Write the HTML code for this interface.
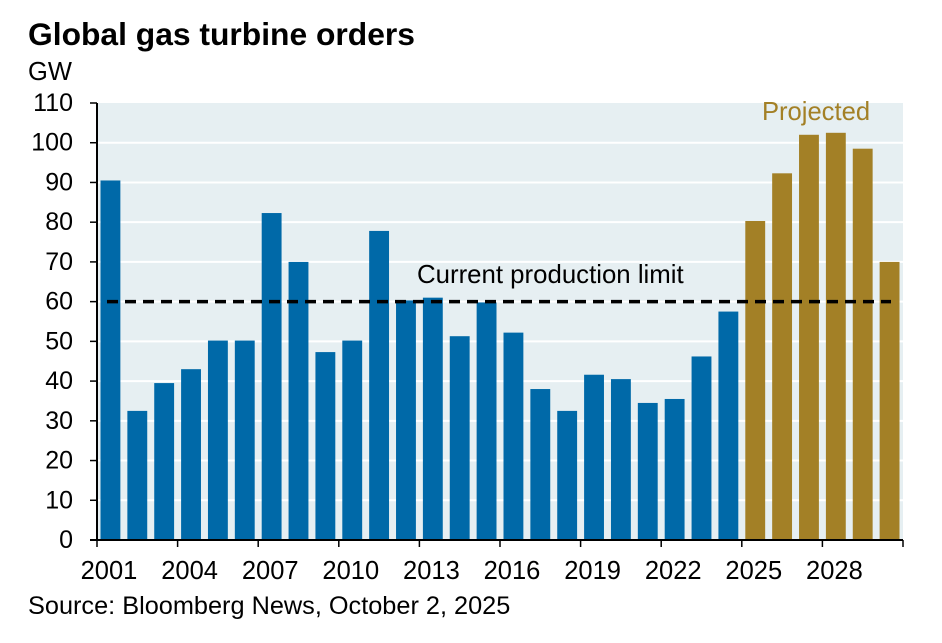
<!DOCTYPE html>
<html><head><meta charset="utf-8"><style>
body{margin:0;background:#fff;font-family:"Liberation Sans",Arial,sans-serif}
svg text{font-family:"Liberation Sans",Arial,sans-serif}
</style></head><body>
<svg width="942" height="638" viewBox="0 0 942 638" id="c">
<text x="28" y="45" font-size="31.8" font-weight="bold" fill="#000">Global gas turbine orders</text>
<text x="28" y="80" font-size="25.5" fill="#000">GW</text>
<text x="28" y="614" font-size="25.3" fill="#000">Source: Bloomberg News, October 2, 2025</text>
</svg>
<script>
const years=[2001,2002,2003,2004,2005,2006,2007,2008,2009,2010,2011,2012,2013,2014,2015,2016,2017,2018,2019,2020,2021,2022,2023,2024,2025,2026,2027,2028,2029,2030];
const values=[90.5,32.5,39.5,43,50.2,50.2,82.3,70,47.3,50.2,77.8,60.3,61,51.3,59.8,52.2,38,32.5,41.6,40.5,34.5,35.5,46.2,57.5,80.3,92.3,102,102.5,98.5,70];
const projectedFrom=2025;
const yTicks=[0,10,20,30,40,50,60,70,80,90,100,110];
const xLabels=[2001,2004,2007,2010,2013,2016,2019,2022,2025,2028];
const limit=60;
const NS="http://www.w3.org/2000/svg";
const svg=document.getElementById('c');
const L=97,R=903,T=103,B=540,n=years.length,slot=(R-L)/n;
const y=v=>B-(v/110)*(B-T);
const x=yr=>L+(yr-years[0])*slot;
function mk(t,a){const e=document.createElementNS(NS,t);for(const k in a)e.setAttribute(k,a[k]);svg.appendChild(e);return e;}
let bg=mk('rect',{x:L,y:T,width:R-L,height:B-T,fill:'#E6EFF2'});


yTicks.forEach(v=>{
 if(v>0&&v<110){let g=mk('line',{x1:L,x2:R,y1:y(v),y2:y(v),stroke:'#fff','stroke-width':2});
 
 }
 let tk=mk('line',{x1:L-7,x2:L,y1:y(v),y2:y(v),stroke:'#000','stroke-width':1.5});
 
 
 let t=mk('text',{x:73,y:y(v)+8,'text-anchor':'end','font-size':25});
 t.textContent=v;
 
 
});
years.forEach((yr,i)=>{
 let b=mk('rect',{x:x(yr)+3.5,y:y(values[i]),width:slot-7,height:B-y(values[i]),fill:yr>=projectedFrom?'#A38026':'#0069A8'});
 
 
});
let ln=mk('line',{x1:x(2001)+10,x2:x(2030)+slot-12,y1:y(limit),y2:y(limit),stroke:'#000','stroke-width':3.5,'stroke-dasharray':'11,7'});


let lt=mk('text',{x:417,y:283,'font-size':25.8});
lt.textContent='Current production limit';


let pt=mk('text',{x:816,y:120,'text-anchor':'middle','font-size':25.6,fill:'#A38026'});
pt.textContent='Projected';


let ya=mk('line',{x1:L,x2:L,y1:T,y2:B,stroke:'#000','stroke-width':2});


let xa=mk('line',{x1:L-7,x2:R,y1:B,y2:B,stroke:'#000','stroke-width':2});


xLabels.concat([2031]).forEach(yr=>{
 let tk=mk('line',{x1:x(yr),x2:x(yr),y1:B,y2:B+7,stroke:'#000','stroke-width':1.5});
 
 
});
xLabels.forEach(yr=>{
 let t=mk('text',{x:x(yr)+12,y:579,'text-anchor':'middle','font-size':25.5});
 t.textContent=yr;
 
 
});
</script>
</body></html>
